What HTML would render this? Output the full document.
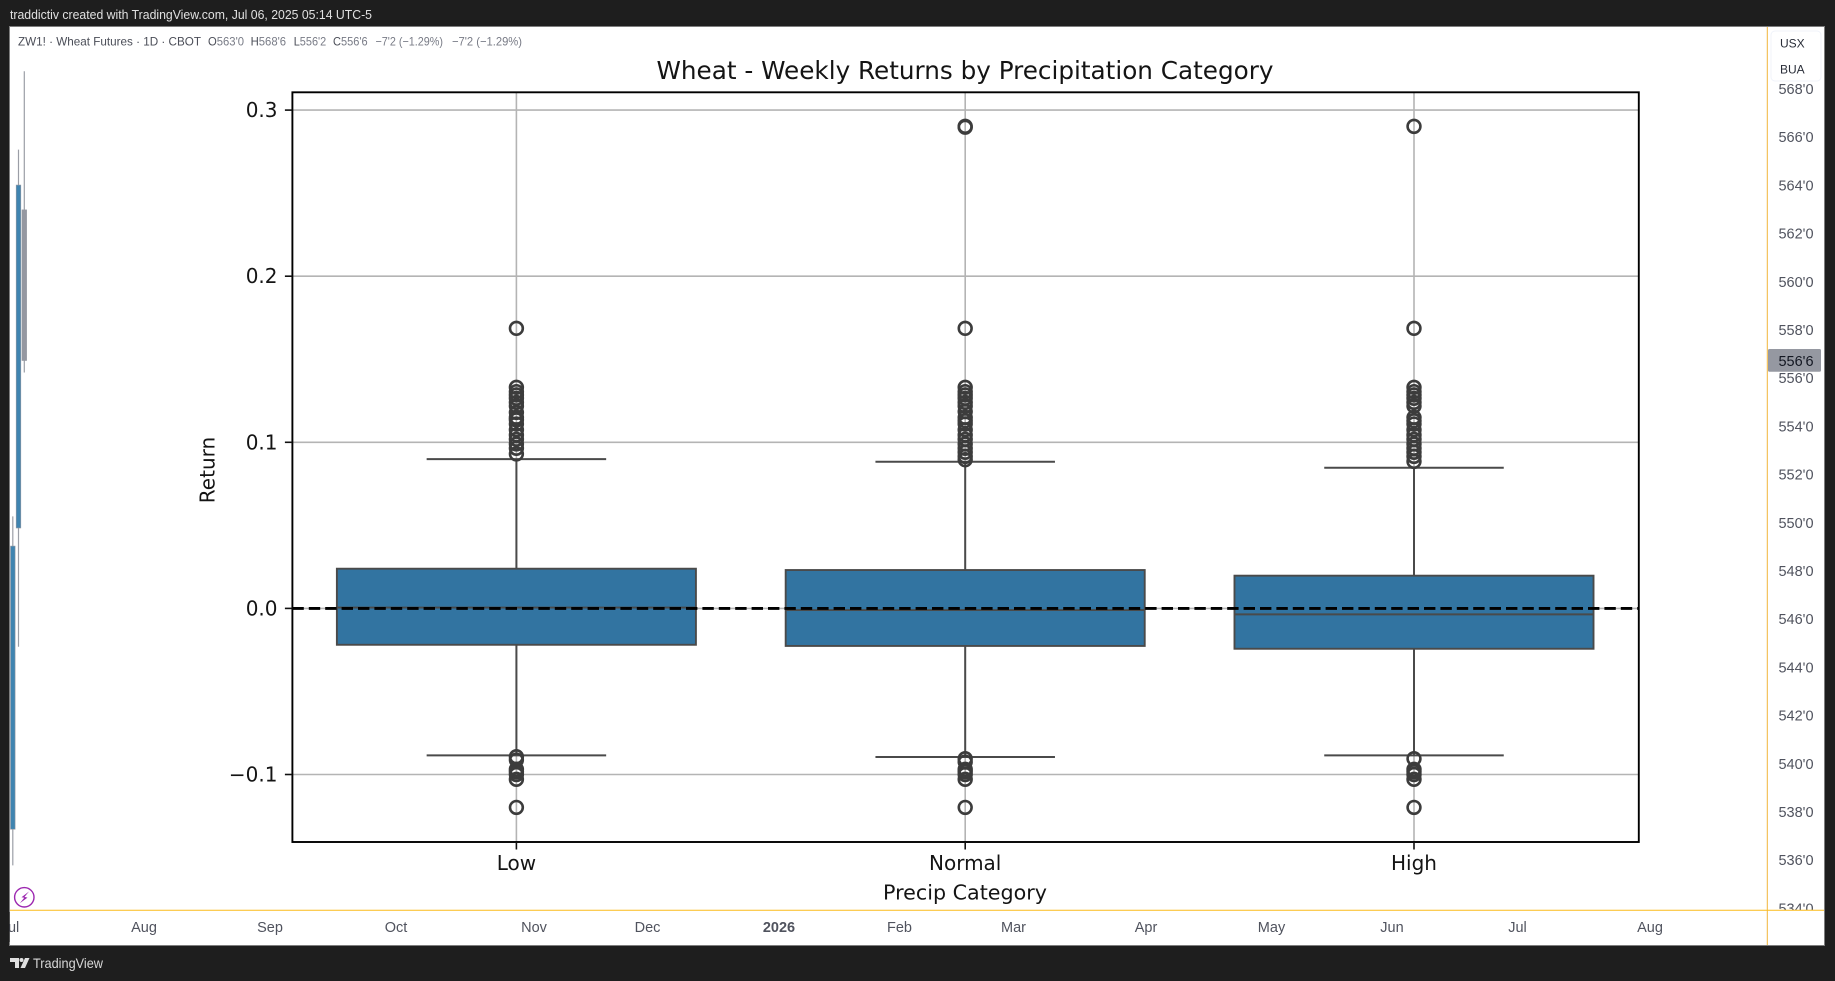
<!DOCTYPE html>
<html lang="en">
<head>
<meta charset="utf-8">
<title>Wheat - Weekly Returns by Precipitation Category</title>
<style>
html,body{margin:0;padding:0;background:#1e1e1e;width:1835px;height:981px;overflow:hidden}
svg{display:block}
.tv{font-family:"Liberation Sans",sans-serif}
.mpl{font-family:"DejaVu Sans",sans-serif;fill:#141414}
.tk{font-size:14.5px;fill:#50535e;text-anchor:middle;dominant-baseline:central}
.tl{font-size:14.5px;fill:#50535e;text-anchor:middle;dominant-baseline:central}
.lg{font-size:12px;fill:#787b86;dominant-baseline:central}
.ld{fill:#4a4d57}
#plot{filter:blur(0.3px)}
</style>
</head>
<body>
<svg id="root" xmlns="http://www.w3.org/2000/svg" width="1835" height="981" viewBox="0 0 1835 981">
  <rect x="0" y="0" width="1835" height="981" fill="#1e1e1e"/>
  <text class="tv" x="10" y="15" font-size="12.5" fill="#e0e0e0" dominant-baseline="central" textLength="362" lengthAdjust="spacingAndGlyphs">traddictiv created with TradingView.com, Jul 06, 2025 05:14 UTC-5</text>
  <rect x="9.5" y="26.5" width="1815" height="919" fill="#ffffff" stroke="#7d7d7d" stroke-width="1"/>

  <g id="candles"></g>
  <g id="plot"></g>

  <g class="tv">
    <text class="lg ld" x="18" y="41.7" textLength="183" lengthAdjust="spacingAndGlyphs">ZW1! · Wheat Futures · 1D · CBOT</text>
    <text class="lg" x="208" y="41.7" textLength="36" lengthAdjust="spacingAndGlyphs"><tspan class="ld">O</tspan>563'0</text>
    <text class="lg" x="250.6" y="41.7" textLength="35.5" lengthAdjust="spacingAndGlyphs"><tspan class="ld">H</tspan>568'6</text>
    <text class="lg" x="293.7" y="41.7" textLength="32.5" lengthAdjust="spacingAndGlyphs"><tspan class="ld">L</tspan>556'2</text>
    <text class="lg" x="333" y="41.7" textLength="34.6" lengthAdjust="spacingAndGlyphs"><tspan class="ld">C</tspan>556'6</text>
    <text class="lg" x="375.5" y="41.7" textLength="67.5" lengthAdjust="spacingAndGlyphs">−7'2 (−1.29%)</text>
    <text class="lg" x="452" y="41.7" textLength="70" lengthAdjust="spacingAndGlyphs">−7'2 (−1.29%)</text>
  </g>

  <g id="price-axis" class="tv"></g>
  <rect x="10" y="910" width="1814" height="35" fill="#ffffff"/>
  <g id="time-axis" class="tv"></g>
  <line x1="1767.3" y1="27" x2="1767.3" y2="945" stroke="#f2b53a" stroke-width="1"/>
  <line x1="10" y1="910.3" x2="1824" y2="910.3" stroke="#fbbc1c" stroke-width="1"/>

  <g class="tv">
    <rect x="1768" y="349" width="53" height="22.7" rx="1.5" fill="#9598a1"/>
    <text x="1796" y="361.8" font-size="14.5" fill="#131722" text-anchor="middle" dominant-baseline="central">556'6</text>
  </g>
  <g class="tv">
    <rect x="1771" y="31" width="50" height="50" rx="4" fill="#ffffff" stroke="#f0f3fa" stroke-width="1"/>
    <text x="1780" y="43.5" font-size="12" fill="#2a2e39" dominant-baseline="central">USX</text>
    <text x="1780" y="69.5" font-size="12" fill="#2a2e39" dominant-baseline="central">BUA</text>
  </g>

  <g>
    <circle cx="24.3" cy="897.3" r="9.7" fill="#ffffff" stroke="#9c27b0" stroke-width="1.4"/>
    <polygon points="29,891.5 21.5,897.2 24.3,897.8 19.8,903.2 27.5,897.6 24.5,896.9" fill="#9c27b0"/>
  </g>

  <g>
    <polygon points="10,958 19,958 19,968 15,968 15,962 10,962" fill="#e0e0e0"/>
    <circle cx="21.5" cy="960" r="2" fill="#e0e0e0"/>
    <polygon points="29.5,958 25,968 20.5,968 25,958" fill="#e0e0e0"/>
    <text class="tv" x="33" y="963" font-size="14" fill="#d8d8d8" dominant-baseline="central" textLength="70" lengthAdjust="spacingAndGlyphs">TradingView</text>
  </g>
</svg>
<script>
// ---------- boxplot data ----------
const categories = ["Low", "Normal", "High"];
const q1Values = [-0.0219, -0.0226, -0.0243];
const q3Values = [0.0239, 0.0231, 0.0197];
const medianValues = [0.0005, -0.0010, -0.0036];
const whiskerLowValues = [-0.0885, -0.0895, -0.0885];
const whiskerHighValues = [0.0899, 0.0883, 0.0847];
const outliersLow = [0.1686, 0.1331, 0.1305, 0.1285, 0.1265, 0.124, 0.1218, 0.118, 0.115, 0.1135, 0.111, 0.1075, 0.1044, 0.1018, 0.099, 0.0964, 0.093, -0.0893, -0.0913, -0.0969, -0.0983, -0.1, -0.1029, -0.1198];
const outliersNormal = [0.2902, 0.2897, 0.1686, 0.1331, 0.1305, 0.1285, 0.1265, 0.124, 0.1218, 0.1185, 0.115, 0.113, 0.111, 0.1075, 0.1044, 0.1018, 0.099, 0.0964, 0.094, 0.0915, 0.0895, -0.0905, -0.0925, -0.0969, -0.0983, -0.1, -0.1029, -0.1198];
const outliersHigh = [0.2902, 0.1686, 0.1331, 0.1305, 0.1285, 0.1265, 0.124, 0.1218, 0.115, 0.113, 0.111, 0.1075, 0.1044, 0.1018, 0.099, 0.0964, 0.094, 0.0915, 0.0885, -0.0905, -0.0969, -0.0983, -0.1, -0.1029, -0.1198];
const yTickValues = [0.3, 0.2, 0.1, 0, -0.1];
const yTickLabels = ["0.3", "0.2", "0.1", "0.0", "−0.1"];
const referenceLevel = 0;

// ---------- background price data ----------
const candleOpen = [537.3, 549.8, 563.0];
const candleHigh = [550.28, 565.5, 568.75];
const candleLow = [535.8, 544.87, 556.25];
const candleClose = [549.05, 564.03, 556.75];
const priceTicks = ["568'0","566'0","564'0","562'0","560'0","558'0","556'0","554'0","552'0","550'0","548'0","546'0","544'0","542'0","540'0","538'0","536'0","534'0"];
const priceTickValues = [568,566,564,562,560,558,556,554,552,550,548,546,544,542,540,538,536,534];
const timeLabels = ["Jul","Aug","Sep","Oct","Nov","Dec","2026","Feb","Mar","Apr","May","Jun","Jul","Aug"];

// ---------- scales ----------
const NS = "http://www.w3.org/2000/svg";
const plotLeft = 292.4, plotRight = 1638.8, plotTop = 92.3, plotBottom = 842;
function yScale(v){ return 608.4 - v * 1661; }
function xScale(i){ return plotLeft + (i + 0.5) * (plotRight - plotLeft) / categories.length - 0.4; }
const bandWidth = (plotRight - plotLeft) / categories.length;
function priceY(p){ return 360.5 + (556.75 - p) * 24.1; }

function mk(parent, tag, attrs, text){
  const el = document.createElementNS(NS, tag);
  for (const k in attrs) el.setAttribute(k, attrs[k]);
  if (text !== undefined) el.textContent = text;
  parent.appendChild(el);
  return el;
}

const plot = document.getElementById("plot");
const LINE = "#4a4a4a";

// grid
yTickValues.forEach(function(v, i){
  const g = mk(plot, "line", {x1:plotLeft, x2:plotRight, y1:yScale(v), y2:yScale(v), stroke:"#b4b4b4", "stroke-width":1.6});
  
  
});
categories.forEach(function(c, i){
  const g = mk(plot, "line", {x1:xScale(i), x2:xScale(i), y1:plotTop, y2:plotBottom, stroke:"#b4b4b4", "stroke-width":1.6});
  
  
});

// boxes
const allOutliers = [outliersLow, outliersNormal, outliersHigh];
categories.forEach(function(c, i){
  const cx = xScale(i);
  const group = mk(plot, "g", {});
  
  

  const w1 = mk(group, "line", {x1:cx, x2:cx, y1:yScale(q3Values[i]), y2:yScale(whiskerHighValues[i]), stroke:LINE, "stroke-width":2});
  
  
  const w2 = mk(group, "line", {x1:cx, x2:cx, y1:yScale(q1Values[i]), y2:yScale(whiskerLowValues[i]), stroke:LINE, "stroke-width":2});
  
  
  const c1 = mk(group, "line", {x1:cx - bandWidth*0.2, x2:cx + bandWidth*0.2, y1:yScale(whiskerHighValues[i]), y2:yScale(whiskerHighValues[i]), stroke:LINE, "stroke-width":2});
  
  
  const c2 = mk(group, "line", {x1:cx - bandWidth*0.2, x2:cx + bandWidth*0.2, y1:yScale(whiskerLowValues[i]), y2:yScale(whiskerLowValues[i]), stroke:LINE, "stroke-width":2});
  
  

  const box = mk(group, "rect", {x:cx - bandWidth*0.4, width:bandWidth*0.8, y:yScale(q3Values[i]), height:yScale(q1Values[i]) - yScale(q3Values[i]), fill:"#3274a1", stroke:LINE, "stroke-width":1.9});
  
  
  const med = mk(group, "line", {x1:cx - bandWidth*0.4, x2:cx + bandWidth*0.4, y1:yScale(medianValues[i]), y2:yScale(medianValues[i]), stroke:LINE, "stroke-width":1.9});
  
  

  allOutliers[i].forEach(function(v){
    const o = mk(group, "circle", {cx:cx, cy:yScale(v), r:6.4, fill:"none", stroke:"#3c3c3c", "stroke-width":2.6});
    
    
  });
});

// zero reference line
const ref = mk(plot, "line", {x1:plotLeft, x2:plotRight, y1:yScale(referenceLevel), y2:yScale(referenceLevel), stroke:"#000000", "stroke-width":2.9, "stroke-dasharray":"11.4 5"});



// spines
const spine = mk(plot, "rect", {x:plotLeft, y:plotTop, width:plotRight - plotLeft, height:plotBottom - plotTop, fill:"none", stroke:"#000000", "stroke-width":1.9});



// y ticks
yTickValues.forEach(function(v, i){
  const t = mk(plot, "line", {x1:plotLeft - 7.5, x2:plotLeft, y1:yScale(v), y2:yScale(v), stroke:"#111111", "stroke-width":1.6});
  
  
  const l = mk(plot, "text", {x:277.5, y:yScale(v), class:"mpl", "font-size":20, "text-anchor":"end", "dominant-baseline":"central"}, yTickLabels[i]);
  
  
});

// x ticks
categories.forEach(function(c, i){
  const t = mk(plot, "line", {x1:xScale(i), x2:xScale(i), y1:plotBottom, y2:plotBottom + 7.5, stroke:"#111111", "stroke-width":1.6});
  
  
  const l = mk(plot, "text", {x:xScale(i), y:863, class:"mpl", "font-size":20, "text-anchor":"middle", "dominant-baseline":"central"}, c);
  
  
});

// titles
const title = mk(plot, "text", {x:965, y:70.5, class:"mpl", "font-size":24.6, "text-anchor":"middle", "dominant-baseline":"central", textLength:617, lengthAdjust:"spacingAndGlyphs"}, "Wheat - Weekly Returns by Precipitation Category");


const xTitle = mk(plot, "text", {x:965, y:892.5, class:"mpl", "font-size":20, "text-anchor":"middle", "dominant-baseline":"central", textLength:164, lengthAdjust:"spacingAndGlyphs"}, "Precip Category");


const yTitle = mk(plot, "text", {x:0, y:0, class:"mpl", "font-size":20, "text-anchor":"middle", "dominant-baseline":"central", transform:"translate(207.5 470) rotate(-90)"}, "Return");



// candles
const candleGroup = document.getElementById("candles");
const candleX = [12.8, 18.5, 24.3];
candleOpen.forEach(function(o, i){
  const up = candleClose[i] >= o;
  const top = priceY(Math.max(o, candleClose[i]));
  const bot = priceY(Math.min(o, candleClose[i]));
  const wick = mk(candleGroup, "line", {x1:candleX[i], x2:candleX[i], y1:priceY(candleHigh[i]), y2:priceY(candleLow[i]), stroke:"#9b9ea6", "stroke-width":1.2});
  
  
  const body = mk(candleGroup, "rect", {x:Math.max(candleX[i] - 2.3, 10), y:top, width:4.6, height:bot - top, fill:up ? "#3f84b0" : "#9598a1", stroke:"#9598a1", "stroke-width":0.6});
  
  
});

// price axis
const priceAxis = document.getElementById("price-axis");
priceTicks.forEach(function(t, i){
  const l = mk(priceAxis, "text", {x:1796, y:priceY(priceTickValues[i]) + 0.6, class:"tk"}, t);
  
  
});

// time axis
const timeAxis = document.getElementById("time-axis");
const timeCenters = [10, 144, 270, 396, 534, 647.5, 779, 899.5, 1013.5, 1146, 1271.5, 1392, 1517.5, 1650];
timeLabels.forEach(function(t, i){
  const attrs = {x:timeCenters[i], y:928, class:"tl"};
  if (t === "2026") { attrs["font-weight"] = "bold"; }
  const l = mk(timeAxis, "text", attrs, t);
  
  
});
// clip the first label at the panel's left edge
const leftMask = mk(timeAxis, "rect", {x:0, y:912, width:9.5, height:30, fill:"#1e1e1e"});


</script>
</body>
</html>
